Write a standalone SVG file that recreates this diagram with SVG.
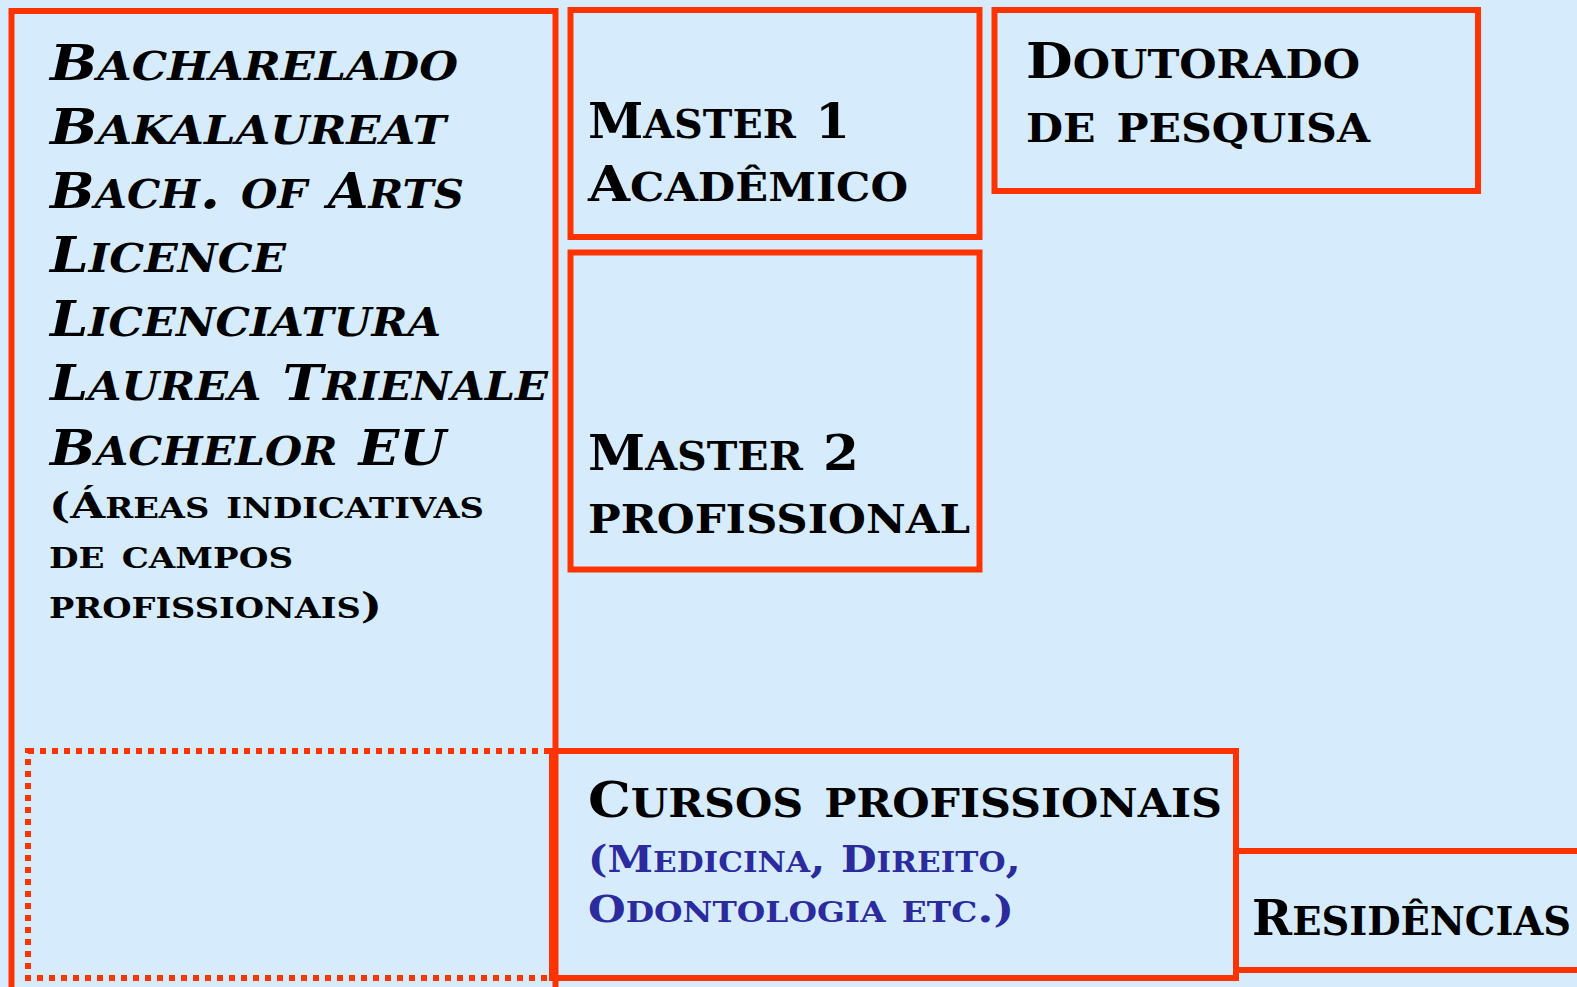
<svg xmlns="http://www.w3.org/2000/svg" width="1577" height="987" viewBox="0 0 1577 987">
<style>
.box{fill:none;stroke:#FF3300;stroke-width:6}
.dot{fill:none;stroke:#FF3300;stroke-width:6;stroke-dasharray:6 6}
text{font-family:"DejaVu Serif","Liberation Serif",serif;font-weight:bold;font-variant:small-caps;fill:#000}
.big{font-size:55px}
.big tspan.C{font-size:49px}
.it{font-style:italic}
.sm{font-size:39px}
.sm tspan.C{font-size:36px}
.blue{fill:#2B2B9E;font-size:40px}
.blue tspan.C{font-size:37px}
</style>
<rect x="0" y="0" width="1577" height="987" fill="#D6ECFD"/>
<g id="bacharelado">
<rect class="box" x="11.5" y="11" width="544" height="1000"/>
<text class="big it" x="50" y="80" textLength="408" lengthAdjust="spacingAndGlyphs"><tspan class="C">B</tspan>acharelado</text>
<text class="big it" x="50" y="144" textLength="396" lengthAdjust="spacingAndGlyphs"><tspan class="C">B</tspan>akalaureat</text>
<text class="big it" x="50" y="208" textLength="414" lengthAdjust="spacingAndGlyphs"><tspan class="C">B</tspan>ach. of <tspan class="C">A</tspan>rts</text>
<text class="big it" x="50" y="272" textLength="236" lengthAdjust="spacingAndGlyphs"><tspan class="C">L</tspan>icence</text>
<text class="big it" x="50" y="336" textLength="391" lengthAdjust="spacingAndGlyphs"><tspan class="C">L</tspan>icenciatura</text>
<text class="big it" x="50" y="400" textLength="498" lengthAdjust="spacingAndGlyphs"><tspan class="C">L</tspan>aurea <tspan class="C">T</tspan>rienale</text>
<text class="big it" x="50" y="465" textLength="396" lengthAdjust="spacingAndGlyphs"><tspan class="C">B</tspan>achelor <tspan class="C">EU</tspan></text>
<text class="sm" x="49" y="518" textLength="435" lengthAdjust="spacingAndGlyphs"><tspan class="C">(Á</tspan>reas indicativas</text>
<text class="sm" x="49" y="568" textLength="244" lengthAdjust="spacingAndGlyphs">de campos</text>
<text class="sm" x="49" y="618" textLength="333" lengthAdjust="spacingAndGlyphs">profissionais<tspan class="C">)</tspan></text>
</g>
<g id="dotted-area">
<rect class="dot" x="28" y="751" width="524" height="227"/>
</g>
<g id="master1">
<rect class="box" x="570.5" y="10" width="409" height="227"/>
<text class="big" x="588" y="138" textLength="262" lengthAdjust="spacingAndGlyphs"><tspan class="C">M</tspan>aster <tspan class="C">1</tspan></text>
<text class="big" x="588" y="201" textLength="320" lengthAdjust="spacingAndGlyphs"><tspan class="C">A</tspan>cadêmico</text>
</g>
<g id="master2">
<rect class="box" x="570.5" y="252.5" width="409" height="317"/>
<text class="big" x="588" y="470" textLength="271" lengthAdjust="spacingAndGlyphs"><tspan class="C">M</tspan>aster <tspan class="C">2</tspan></text>
<text class="big" x="588" y="533" textLength="382" lengthAdjust="spacingAndGlyphs">profissional</text>
</g>
<g id="doutorado">
<rect class="box" x="994.5" y="10" width="483.5" height="181"/>
<text class="big" x="1026" y="78" textLength="334" lengthAdjust="spacingAndGlyphs"><tspan class="C">D</tspan>outorado</text>
<text class="big" x="1026" y="142" textLength="344" lengthAdjust="spacingAndGlyphs">de pesquisa</text>
</g>
<g id="residencias">
<rect class="box" x="1236" y="851" width="400" height="119"/>
<text class="big" x="1252" y="935" textLength="319" lengthAdjust="spacingAndGlyphs"><tspan class="C">R</tspan>esidências</text>
</g>
<g id="cursos">
<rect class="box" x="552" y="751" width="684" height="227"/>
<text class="big" x="588" y="817" textLength="634" lengthAdjust="spacingAndGlyphs"><tspan class="C">C</tspan>ursos profissionais</text>
<text class="blue" x="588" y="872" textLength="433" lengthAdjust="spacingAndGlyphs"><tspan class="C">(M</tspan>edicina, <tspan class="C">D</tspan>ireito,</text>
<text class="blue" x="588" y="922" textLength="426" lengthAdjust="spacingAndGlyphs"><tspan class="C">O</tspan>dontologia etc.<tspan class="C">)</tspan></text>
</g>
</svg>
